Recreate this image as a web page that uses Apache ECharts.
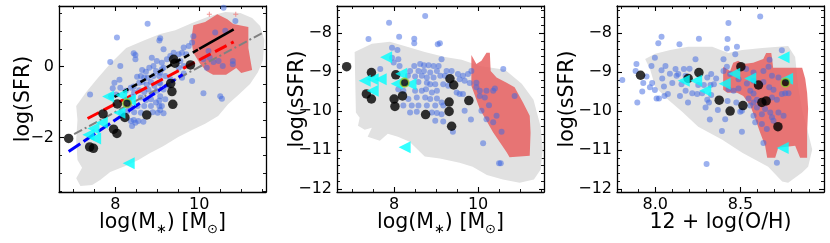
<!DOCTYPE html>
<html><head><meta charset="utf-8">
<script src="https://cdn.jsdelivr.net/npm/echarts@6/dist/echarts.min.js"></script>
<style>html,body{margin:0;padding:0;background:#fff}#c{width:830px;height:243px}</style>
</head><body><div id="c"></div>
<script>
// ---------- tick labels ----------
const p1XTicks = [8, 10];
const p1YTicks = [-2, 0];
const p2XTicks = [8, 10];
const p2YTicks = [-12, -11, -10, -9, -8];
const p3XTicks = [8.0, 8.5];
const p3YTicks = [-12, -11, -10, -9, -8];
const yName1 = 'log(SFR)';
const yName2 = 'log(sSFR)';
const xName3 = '12 + log(O/H)';

// ---------- panel 1: log(M*) vs log(SFR) ----------
const p1Gray = [[7.07,-1.11],[7.31,-0.71],[7.55,-0.37],[7.88,0.08],[8.26,0.53],[8.71,0.75],[9.07,0.92],[9.43,1.03],[9.83,1.23],[10.26,1.43],[10.62,1.54],[10.98,1.51],[11.26,1.37],[11.45,1.15],[11.55,0.75],[11.52,0.19],[11.40,-0.15],[11.21,-0.49],[10.93,-0.80],[10.69,-1.05],[10.45,-1.39],[10.14,-1.61],[9.83,-1.78],[9.50,-1.98],[9.14,-2.24],[8.83,-2.43],[8.55,-2.63],[8.24,-2.80],[7.88,-2.97],[7.64,-3.19],[7.45,-3.33],[7.17,-3.36],[7.07,-3.14],[7.21,-2.85],[7.10,-2.63],[7.07,-2.06],[7.10,-1.50]];
const p1Red = [[9.86,1.17],[10.14,1.26],[10.43,1.48],[10.67,1.34],[10.81,1.20],[11.17,1.12],[11.17,0.53],[11.26,-0.09],[11.00,-0.18],[10.88,-0.04],[10.64,-0.23],[10.33,-0.23],[10.17,-0.12],[10.02,0.08],[9.86,0.39],[9.81,0.75]];
const p1RedPlus = [[10.24,1.48],[10.87,1.48]];
const p1Blue = [[8.77,1.21],[8.04,0.82],[9.07,0.80],[9.05,0.74],[8.48,0.33],[8.48,0.21],[7.88,0.13],[8.12,0.02],[8.87,0.25],[8.81,-0.03],[8.99,0.16],[8.73,-0.14],[8.97,-0.12],[8.61,-0.26],[8.69,-0.31],[8.77,-0.31],[8.91,-0.26],[9.05,-0.26],[8.57,-0.45],[8.65,-0.43],[8.75,-0.50],[8.85,-0.43],[8.93,-0.54],[9.05,-0.45],[7.98,-0.45],[8.10,-0.37],[7.94,-0.61],[8.12,-0.59],[8.25,-0.68],[8.37,-0.59],[8.45,-0.73],[8.57,-0.66],[8.69,-0.71],[8.79,-0.64],[8.89,-0.75],[8.99,-0.68],[7.40,-0.78],[7.90,-0.83],[8.02,-0.78],[8.33,-0.92],[8.61,-0.87],[8.73,-0.94],[8.85,-0.92],[8.97,-1.01],[9.05,-0.95],[8.37,-1.15],[8.53,-1.11],[8.69,-1.11],[8.85,-1.11],[9.05,-1.11],[8.29,-1.25],[8.45,-1.28],[8.61,-1.30],[8.89,-1.28],[9.01,-1.30],[8.37,-1.53],[8.48,-1.58],[8.55,-1.53],[8.40,-1.67],[8.14,-1.31],[10.58,1.66],[10.86,1.29],[10.62,1.01],[10.38,0.96],[9.86,0.86],[9.83,0.68],[9.75,0.58],[9.15,0.49],[9.39,0.39],[9.51,0.35],[9.63,0.54],[9.59,0.39],[9.69,0.35],[9.31,0.30],[9.23,0.21],[9.11,0.11],[10.22,0.44],[10.25,0.25],[10.10,0.21],[10.34,0.13],[10.46,0.16],[10.56,0.02],[10.80,0.16],[10.80,0.07],[10.18,-0.03],[9.55,0.16],[9.63,0.02],[9.51,-0.03],[9.15,-0.03],[9.19,-0.26],[9.31,-0.35],[9.07,-0.17],[9.59,-0.31],[9.83,-0.40],[10.10,-0.75],[10.50,-0.83],[10.54,-0.90],[9.15,-0.64],[9.27,-0.54],[9.07,-0.83],[9.19,-0.92],[9.11,-1.11],[9.15,-1.31],[8.64,-0.09],[8.52,-0.28],[9.63,-0.19],[8.44,-0.56],[9.07,-0.47],[8.40,-0.85],[8.44,-1.50],[8.67,-1.55],[9.07,-1.22],[8.44,0.38],[9.11,-0.07],[8.91,0.02]];
const p1Black = [[6.89,-2.02],[7.39,-2.26],[7.48,-2.30],[7.71,-1.33],[7.96,-1.76],[8.04,-1.88],[8.05,-1.05],[8.23,-1.43],[8.75,-1.36],[9.39,0.21],[9.42,0.10],[9.79,0.05],[9.32,-0.47],[9.35,-0.70],[9.37,-1.06]];
const p1Cyan = [[7.83,-0.84],[8.14,-0.80],[8.35,-0.94],[8.10,-1.30],[7.68,-1.58],[7.48,-1.74],[7.36,-1.92],[7.52,-2.02],[8.32,-2.72]];
const p1Green = [[8.28,-1.03]];
// fitted relations
const fitBlackDash = [[7.98,-0.85],[10.0,0.50]];
const fitBlackSolid = [[10.0,0.50],[10.82,1.05]];
const fitRed = [[7.34,-1.46],[10.82,0.70]];
const fitBlueLong = [[6.89,-2.39],[9.15,-0.58]];
const fitBlueShort = [[9.15,-0.58],[9.67,-0.17]];
const fitGray = [[7.02,-1.90],[11.55,0.98]];

// ---------- panel 2: log(M*) vs log(sSFR) ----------
const p2Gray = [[7.06,-8.48],[7.47,-8.27],[7.90,-8.22],[8.25,-8.33],[8.73,-8.48],[9.21,-8.61],[9.61,-8.68],[10.04,-8.84],[10.64,-8.94],[11.04,-9.30],[11.32,-9.71],[11.49,-10.40],[11.54,-10.99],[11.49,-11.50],[11.33,-11.76],[10.99,-11.84],[10.59,-11.76],[10.21,-11.64],[9.87,-11.43],[9.56,-11.33],[9.09,-11.22],[8.73,-11.17],[8.37,-10.79],[8.09,-10.66],[7.85,-10.58],[7.66,-10.76],[7.37,-10.66],[7.47,-10.43],[7.30,-10.48],[7.14,-10.38],[7.18,-10.17],[7.09,-10.04]];
const p2Red = [[9.84,-8.56],[9.96,-8.79],[10.08,-8.71],[10.20,-8.50],[10.28,-8.50],[10.30,-8.97],[10.44,-9.14],[10.68,-9.27],[10.87,-9.39],[11.07,-9.78],[11.23,-10.12],[11.25,-10.55],[11.23,-11.15],[10.75,-11.19],[10.68,-11.06],[10.36,-10.55],[10.04,-9.95],[9.84,-9.35]];
const p2Blue = [[8.74,-7.56],[7.88,-7.73],[7.39,-8.15],[8.12,-8.09],[8.48,-8.14],[8.48,-8.26],[9.04,-8.28],[7.95,-8.37],[8.08,-8.43],[7.95,-8.63],[8.10,-8.67],[7.99,-8.75],[8.13,-8.84],[7.67,-8.92],[8.48,-8.84],[8.62,-8.79],[8.71,-8.82],[8.82,-8.82],[8.94,-8.84],[9.06,-8.84],[8.38,-8.97],[8.58,-8.97],[8.71,-8.97],[8.86,-9.01],[9.02,-8.97],[8.33,-9.09],[8.50,-9.11],[8.66,-9.09],[8.78,-9.14],[8.94,-9.14],[9.10,-9.09],[8.58,-9.25],[8.78,-9.27],[8.86,-9.31],[8.98,-9.31],[8.10,-9.44],[8.22,-9.48],[8.50,-9.48],[8.66,-9.48],[8.76,-9.44],[8.90,-9.52],[9.02,-9.48],[8.34,-9.69],[8.54,-9.65],[8.74,-9.65],[8.86,-9.69],[9.02,-9.68],[8.22,-9.86],[8.42,-9.86],[8.58,-9.86],[8.78,-9.86],[8.98,-9.86],[8.38,-10.04],[8.54,-10.02],[8.90,-10.04],[9.02,-10.05],[8.98,-10.25],[9.09,-8.26],[9.13,-8.67],[9.25,-8.97],[9.37,-8.97],[9.21,-9.09],[9.52,-9.05],[9.64,-9.09],[9.76,-9.05],[9.84,-8.97],[9.56,-9.18],[9.68,-9.22],[9.80,-9.28],[9.96,-9.27],[9.17,-9.31],[9.29,-9.35],[9.49,-9.52],[9.56,-9.56],[9.64,-9.56],[9.96,-9.39],[10.04,-9.48],[10.20,-9.48],[10.36,-9.48],[10.40,-9.42],[10.04,-9.61],[10.16,-9.65],[10.87,-9.61],[10.60,-8.92],[9.13,-9.78],[9.17,-9.86],[10.26,-9.85],[9.68,-9.99],[10.08,-9.99],[9.13,-10.08],[10.44,-10.12],[10.20,-10.21],[9.83,-10.22],[9.17,-10.27],[10.36,-10.29],[10.56,-10.53],[9.40,-10.53],[10.12,-10.83],[10.50,-11.34],[10.54,-11.34]];
const p2Black = [[6.87,-8.86],[7.46,-9.01],[7.34,-9.56],[7.46,-9.69],[8.00,-9.69],[8.02,-9.88],[8.04,-9.07],[8.20,-9.61],[8.75,-10.09],[9.33,-9.17],[9.42,-9.33],[9.31,-9.77],[9.31,-10.01],[9.37,-10.39],[9.78,-9.73]];
const p2Cyan = [[7.81,-8.62],[7.30,-9.22],[7.49,-9.18],[7.68,-9.18],[7.49,-9.48],[8.17,-9.04],[8.06,-9.30],[8.39,-9.31],[8.25,-10.93]];
const p2Green = [[8.25,-9.27]];

// ---------- panel 3: 12+log(O/H) vs log(sSFR) ----------
const p3Gray = [[7.941,-8.66],[8.000,-8.53],[8.088,-8.43],[8.193,-8.35],[8.334,-8.35],[8.428,-8.51],[8.510,-8.43],[8.627,-8.38],[8.779,-8.33],[8.820,-8.61],[8.838,-9.38],[8.861,-9.97],[8.896,-10.56],[8.920,-10.99],[8.896,-11.43],[8.861,-11.58],[8.779,-11.84],[8.744,-11.81],[8.662,-11.43],[8.510,-11.07],[8.393,-10.74],[8.252,-10.40],[8.158,-10.02],[8.076,-9.71],[8.000,-9.38],[7.971,-8.94]];
const p3Red = [[8.398,-8.86],[8.439,-8.97],[8.457,-8.76],[8.486,-8.71],[8.516,-8.79],[8.574,-8.76],[8.633,-8.66],[8.650,-8.51],[8.680,-8.51],[8.685,-8.66],[8.691,-8.89],[8.732,-8.89],[8.861,-8.89],[8.879,-9.17],[8.890,-9.53],[8.896,-9.94],[8.890,-10.56],[8.890,-11.20],[8.849,-11.20],[8.820,-10.89],[8.721,-10.94],[8.703,-11.20],[8.656,-11.20],[8.644,-10.89],[8.615,-10.56],[8.586,-10.20],[8.557,-9.86],[8.516,-9.61],[8.480,-9.53],[8.422,-9.53],[8.398,-9.45]];
const p3Blue = [[8.037,-8.09],[8.256,-8.14],[8.018,-8.26],[8.142,-8.28],[7.998,-8.63],[8.236,-8.67],[7.890,-8.79],[7.978,-8.84],[7.885,-8.97],[8.060,-8.84],[8.037,-8.95],[8.119,-8.92],[8.168,-8.92],[8.201,-8.91],[8.086,-9.04],[8.135,-9.05],[8.178,-9.09],[7.949,-9.11],[7.807,-9.20],[8.041,-9.16],[8.125,-9.09],[7.930,-9.28],[7.982,-9.28],[8.100,-9.28],[7.969,-9.39],[8.051,-9.37],[8.154,-9.31],[8.305,-9.14],[8.328,-9.05],[8.357,-9.16],[7.924,-9.50],[7.998,-9.46],[8.074,-9.56],[8.054,-9.61],[8.022,-9.68],[8.008,-9.68],[8.145,-9.61],[8.178,-9.48],[8.217,-9.54],[8.246,-9.56],[8.275,-9.54],[8.252,-9.33],[8.285,-9.33],[8.324,-9.33],[8.344,-9.31],[8.305,-9.71],[8.315,-9.78],[7.895,-9.78],[8.192,-9.78],[8.295,-9.91],[8.367,-9.97],[8.320,-10.22],[8.301,-11.36],[8.328,-9.59],[8.615,-7.57],[8.429,-7.74],[8.424,-8.15],[8.479,-8.35],[8.420,-8.39],[8.742,-8.44],[8.400,-8.67],[8.469,-8.54],[8.670,-8.68],[8.420,-8.86],[8.400,-8.97],[8.439,-9.05],[8.533,-8.92],[8.576,-9.01],[8.634,-8.97],[8.664,-8.86],[8.684,-9.09],[8.722,-9.14],[8.488,-9.18],[8.537,-9.29],[8.576,-9.22],[8.634,-9.25],[8.668,-9.39],[8.429,-9.44],[8.459,-9.48],[8.488,-9.42],[8.557,-9.48],[8.576,-9.55],[8.693,-9.45],[8.742,-9.56],[8.762,-9.54],[8.781,-9.54],[8.424,-9.74],[8.475,-9.78],[8.547,-9.68],[8.576,-9.78],[8.596,-9.71],[8.684,-9.65],[8.713,-9.71],[8.557,-9.86],[8.596,-9.91],[8.644,-9.95],[8.674,-10.04],[8.498,-10.02],[8.410,-10.21],[8.576,-10.12],[8.625,-10.08],[8.684,-10.16],[8.722,-10.04],[8.752,-10.12],[8.586,-10.29],[8.625,-10.33],[8.693,-10.25],[8.391,-10.51],[8.508,-10.53],[8.654,-10.46],[8.634,-10.82],[8.713,-11.33],[8.508,-9.99]];
const p3Black = [[7.914,-9.08],[8.193,-9.16],[8.256,-9.01],[8.375,-9.72],[8.439,-10.00],[8.502,-8.86],[8.514,-9.86],[8.605,-9.33],[8.625,-9.78],[8.650,-9.74],[8.719,-10.40]];
const p3Cyan = [[8.167,-9.22],[8.240,-9.22],[8.293,-9.48],[8.407,-9.30],[8.463,-9.04],[8.557,-9.16],[8.752,-8.62],[8.773,-9.17],[8.747,-10.95]];
const p3Green = [[8.763,-9.27]];

// ---------- styling ----------
const FONT = 'DejaVu Sans';
const GRAY = '#e1e1e1';
const RED = 'rgba(232,96,96,0.85)';
const BLUE = 'rgba(65,105,225,0.65)';
const TRI = 'path://M0,5 L10,0 L10,10 Z';
const PLUS = 'path://M4,0 L6,0 L6,4 L10,4 L10,6 L6,6 L6,10 L4,10 L4,6 L0,6 L0,4 L4,4 Z';

const grids = [
  {left: 59, top: 6, width: 207, height: 186},
  {left: 337, top: 6, width: 207, height: 186},
  {left: 617, top: 6, width: 207, height: 186}
];
const ranges = [
  {x: [6.66, 11.59], y: [-3.53, 1.71], xMinorStep: 0.5, yMinorStep: 0.5},
  {x: [6.64, 11.57], y: [-12.08, -7.30], xMinorStep: 0.5, yMinorStep: 0.2},
  {x: [7.776, 8.989], y: [-12.08, -7.30], xMinorStep: 0.1, yMinorStep: 0.2}
];
function minorTicks(min, max, step) {
  const out = [];
  const start = Math.ceil(min / step - 1e-9);
  for (let k = start; k * step <= max + 1e-9; k++) out.push(+(k * step).toFixed(4));
  return out;
}
const minus = v => String(v).replace('-', '\u2212');
const NAMESIZE = 20.5;
const richName = {
  a: {fontFamily: FONT, fontSize: NAMESIZE, color: '#000', lineHeight: 26},
  s: {fontFamily: FONT, fontSize: 13, color: '#000', lineHeight: 15, verticalAlign: 'bottom'}
};

function axes(dim, gi, range, majors, minorStep, fmt, nameCfg) {
  const mins = minorTicks(range[0], range[1], minorStep);
  const base = {type: 'value', gridIndex: gi, min: range[0], max: range[1], splitLine: {show: false}, scale: true};
  const pm = dim === 'x' ? 'bottom' : 'left';
  const pr = dim === 'x' ? 'top' : 'right';
  const major = (pos, lab) => Object.assign({}, base, {
    position: pos,
    axisLine: {show: true, onZero: false, lineStyle: {color: '#000', width: 1.3}},
    axisTick: {show: true, inside: true, length: 5, customValues: majors, lineStyle: {color: '#000', width: 1.1}},
    axisLabel: lab ? {show: true, customValues: majors, formatter: fmt, fontFamily: FONT, fontSize: 16, color: '#000', margin: 5} : {show: false}
  }, lab ? nameCfg : {});
  const minor = pos => Object.assign({}, base, {
    position: pos,
    axisLine: {show: false, onZero: false},
    axisTick: {show: true, inside: true, length: 3, customValues: mins, lineStyle: {color: '#000', width: 0.9}},
    axisLabel: {show: false}
  });
  return [major(pm, true), minor(pm), major(pr, false), minor(pr)];
}

const xNameCfg = n => ({name: n, nameLocation: 'middle', nameGap: 18, nameMoveOverlap: false,
  nameTextStyle: {fontFamily: FONT, fontSize: NAMESIZE, color: '#000', rich: richName}});
const yNameCfg = (n, gap) => ({name: n, nameLocation: 'middle', nameRotate: 90, nameGap: gap, nameMoveOverlap: false,
  nameTextStyle: {fontFamily: FONT, fontSize: NAMESIZE, color: '#000'}});
const massName = '{a|log(M}{s|∗}{a|) [M}{s|⊙}{a|]}';

const xAxes = [].concat(
  axes('x', 0, ranges[0].x, p1XTicks, ranges[0].xMinorStep, v => minus(v), xNameCfg(massName)),
  axes('x', 1, ranges[1].x, p2XTicks, ranges[1].xMinorStep, v => minus(v), xNameCfg(massName)),
  axes('x', 2, ranges[2].x, p3XTicks, ranges[2].xMinorStep, v => Number(v).toFixed(1), xNameCfg('{a|' + xName3 + '}'))
);
const yAxes = [].concat(
  axes('y', 0, ranges[0].y, p1YTicks, ranges[0].yMinorStep, v => minus(v), yNameCfg(yName1, 25)),
  axes('y', 1, ranges[1].y, p2YTicks, ranges[1].yMinorStep, v => minus(v), yNameCfg(yName2, 29)),
  axes('y', 2, ranges[2].y, p3YTicks, ranges[2].yMinorStep, v => minus(v), yNameCfg(yName2, 39))
);

function polySeries(p, pts, color, z) {
  return {
    type: 'custom', xAxisIndex: 4 * p, yAxisIndex: 4 * p, z: z, silent: true, clip: true,
    data: pts,
    renderItem: function (params, api) {
      if (params.dataIndex !== 0) return null;
      const points = pts.map(q => api.coord(q));
      return {type: 'polygon', shape: {points: points}, style: {fill: color}};
    }
  };
}
function scat(p, data, opts) {
  return Object.assign({type: 'scatter', xAxisIndex: 4 * p, yAxisIndex: 4 * p, data: data, silent: true}, opts);
}
function line(p, data, color, width, dash, z) {
  return {type: 'line', xAxisIndex: 4 * p, yAxisIndex: 4 * p, data: data, symbol: 'none', silent: true, z: z,
    lineStyle: {color: color, width: width, type: dash, cap: 'butt'}};
}
const blueOpt = {symbol: 'circle', symbolSize: 6, itemStyle: {color: BLUE}, z: 4};
const blackOpt = {symbol: 'circle', symbolSize: 9.5, itemStyle: {color: '#000'}, z: 6};
const cyanOpt = {symbol: TRI, symbolSize: [12, 12], itemStyle: {color: '#00ffff'}, z: 7};
const greenOpt = {symbol: 'circle', symbolSize: 8.5, itemStyle: {color: '#000', borderColor: '#9acd32', borderWidth: 1.6}, z: 8};

const series = [
  polySeries(0, p1Gray, GRAY, 1), polySeries(0, p1Red, RED, 2),
  scat(0, p1RedPlus, {symbol: PLUS, symbolSize: 5, itemStyle: {color: '#f07a7a'}, z: 3}),
  scat(0, p1Blue, blueOpt),
  line(0, fitGray, '#808080', 2, [9, 3, 2, 3], 5),
  line(0, fitBlueLong, '#0000ff', 3, [14, 4], 5),
  line(0, fitBlueShort, '#0000ff', 3, [5, 4], 5),
  line(0, fitRed, '#ff0000', 3, [13, 5], 5),
  line(0, fitBlackDash, '#000000', 2.6, [6, 4], 5),
  line(0, fitBlackSolid, '#000000', 2.6, 'solid', 5),
  scat(0, p1Black, blackOpt), scat(0, p1Cyan, cyanOpt), scat(0, p1Green, greenOpt),

  polySeries(1, p2Gray, GRAY, 1), polySeries(1, p2Red, RED, 2),
  scat(1, p2Blue, blueOpt), scat(1, p2Black, blackOpt), scat(1, p2Cyan, cyanOpt), scat(1, p2Green, greenOpt),

  polySeries(2, p3Gray, GRAY, 1), polySeries(2, p3Red, RED, 2),
  scat(2, p3Blue, blueOpt), scat(2, p3Black, blackOpt), scat(2, p3Cyan, cyanOpt), scat(2, p3Green, greenOpt)
];

const chart = echarts.init(document.getElementById('c'), null, {renderer: 'canvas'});
chart.setOption({
  animation: false,
  backgroundColor: '#fff',
  grid: grids.map(g => Object.assign({containLabel: false, outerBoundsMode: 'none'}, g)),
  xAxis: xAxes,
  yAxis: yAxes,
  series: series
});
</script></body></html>
